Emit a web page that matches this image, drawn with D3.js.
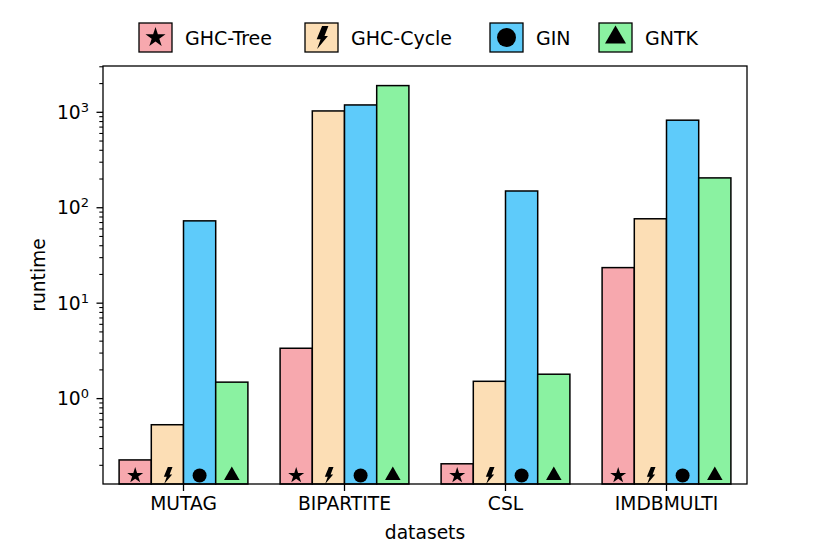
<!DOCTYPE html>
<html>
<head>
<meta charset="utf-8">
<script src="https://cdn.jsdelivr.net/npm/d3@7"></script>
<style>
  body { margin: 0; background: #fff; }
  text { font-family: "DejaVu Sans", sans-serif; }
</style>
</head>
<body>
<div id="chart"></div>
<script>
// data (runtime, log scale)
var categories = ["MUTAG", "BIPARTITE", "CSL", "IMDBMULTI"];
var seriesNames = ["GHC-Tree", "GHC-Cycle", "GIN", "GNTK"];
var ghcTree = [0.225, 3.33, 0.205, 23.3];
var ghcCycle = [0.526, 1021, 1.5, 75.7];
var gin = [72, 1180, 148, 817];
var gntk = [1.47, 1882, 1.78, 203];
var majorTicks = [1, 10, 100, 1000];
var colors = ["#f7a8ae", "#fcdeb5", "#5ecbfa", "#8af2a1"];

var allSeries = [ghcTree, ghcCycle, gin, gntk];

var W = 830, H = 554;
var margin = {top: 66, right: 83, bottom: 70, left: 103};
var width = W - margin.left - margin.right,
    height = H - margin.top - margin.bottom;

var svg = d3.select("#chart").append("svg")
    .attr("width", W)
    .attr("height", H);

var g = svg.append("g")
    .attr("transform", "translate(" + margin.left + "," + margin.top + ")");

var x = d3.scaleBand()
    .domain(categories)
    .range([0, width])
    .paddingInner(0.2)
    .paddingOuter(0.1);

var xs = d3.scaleBand()
    .domain(seriesNames)
    .range([0, x.bandwidth()]);

var y = d3.scaleLog()
    .domain([Math.pow(10, -0.9), Math.pow(10, 3.48)])
    .range([height, 0]);

// marker shapes, sized by their visible extent
var bolt = [[0.05, -1], [0.6, -1], [0.26, -0.12], [0.56, -0.12], [-0.38, 1], [-0.08, 0.16], [-0.42, 0.16]];
function markerPath(i, sz) {
  if (i === 0) {
    var r = sz / 1.902;
    return d3.symbol(d3.symbolStar, r * r / 0.8908)();
  }
  if (i === 1) {
    var h = sz / 2;
    return "M" + bolt.map(function(p) { return (p[0] * h).toFixed(2) + "," + (p[1] * h).toFixed(2); }).join("L") + "Z";
  }
  if (i === 2) return d3.symbol(d3.symbolCircle, Math.PI * sz * sz / 4)();
  var ty = sz / (2 * Math.sqrt(3));
  return d3.symbol(d3.symbolTriangle, ty * ty * 3 * Math.sqrt(3))();
}
var barMarkSize = [16, 17, 14, 15.5];
var legendMarkSize = [20, 23, 19, 21];

// bars
var rows = [];
categories.forEach(function(c, ci) {
  seriesNames.forEach(function(s, si) {
    rows.push({cat: c, s: s, si: si, v: allSeries[si][ci]});
  });
});

g.selectAll(".bar")
    .data(rows)
  .enter().append("rect")
    .attr("class", "bar")
    .attr("x", function(d) { return x(d.cat) + xs(d.s); })
    .attr("width", xs.bandwidth())
    .attr("y", function(d) { return y(d.v); })
    .attr("height", function(d) { return height - y(d.v); })
    .attr("fill", function(d) { return colors[d.si]; })
    .attr("stroke", "#000")
    .attr("stroke-width", 1.5);

g.selectAll(".mark")
    .data(rows)
  .enter().append("path")
    .attr("class", "mark")
    .attr("d", function(d) { return markerPath(d.si, barMarkSize[d.si]); })
    .attr("transform", function(d) {
      return "translate(" + (x(d.cat) + xs(d.s) + xs.bandwidth() / 2) + "," + (height - 8.5) + ")";
    })
    .attr("fill", "#000");

// minor ticks
var minor = [];
for (var e = -1; e <= 3; e++) {
  for (var k = 2; k <= 9; k++) {
    var v = k * Math.pow(10, e);
    if (v >= y.domain()[0] && v <= y.domain()[1]) minor.push(v);
  }
}
g.append("g")
    .call(d3.axisLeft(y).tickValues(minor).tickSize(3.7).tickFormat(""))
    .call(function(a) { a.select(".domain").remove(); })
    .selectAll("line").attr("stroke-width", 1.1);

var yAxis = g.append("g")
    .call(d3.axisLeft(y).tickValues(majorTicks).tickSize(6.5).tickFormat(""));
yAxis.select(".domain").remove();
yAxis.selectAll("line").attr("stroke-width", 1.3);
yAxis.selectAll(".tick").each(function(d) {
  var t = d3.select(this).append("text")
      .attr("x", -14)
      .attr("dy", "0.36em")
      .attr("fill", "#000")
      .attr("text-anchor", "end")
      .style("font-size", "18.7px");
  t.append("tspan").text("10");
  t.append("tspan")
      .attr("dy", "-0.55em")
      .style("font-size", "13px")
      .text(String(Math.round(Math.log10(d))));
});

var xAxis = g.append("g")
    .attr("transform", "translate(0," + height + ")")
    .call(d3.axisBottom(x).tickSize(7).tickPadding(6));
xAxis.select(".domain").remove();
xAxis.selectAll("line").attr("stroke-width", 1.3);
xAxis.selectAll("text")
    .attr("fill", "#000")
    .style("font-size", "18.7px")
    .style("font-family", "DejaVu Sans, sans-serif");

// frame
g.append("rect")
    .attr("width", width)
    .attr("height", height)
    .attr("fill", "none")
    .attr("stroke", "#000")
    .attr("stroke-width", 1.3);

// axis titles
svg.append("text")
    .attr("x", margin.left + width / 2)
    .attr("y", 539)
    .attr("text-anchor", "middle")
    .style("font-size", "18.7px")
    .text("datasets");

svg.append("text")
    .attr("transform", "rotate(-90)")
    .attr("x", -(margin.top + height / 2))
    .attr("y", 45)
    .attr("text-anchor", "middle")
    .style("font-size", "18.7px")
    .text("runtime");

// legend
var legendX = [139, 305, 490, 599];
var legend = svg.append("g");
seriesNames.forEach(function(s, i) {
  var lg = legend.append("g").attr("transform", "translate(" + legendX[i] + ",23)");
  lg.append("rect")
      .attr("width", 33)
      .attr("height", 29)
      .attr("fill", colors[i])
      .attr("stroke", "#000")
      .attr("stroke-width", 1.3);
  lg.append("path")
      .attr("d", markerPath(i, legendMarkSize[i]))
      .attr("transform", "translate(16.5,14.5)")
      .attr("fill", "#000");
  lg.append("text")
      .attr("x", 46)
      .attr("y", 21.5)
      .style("font-size", "19px")
      .text(s);
});
</script>
</body>
</html>
